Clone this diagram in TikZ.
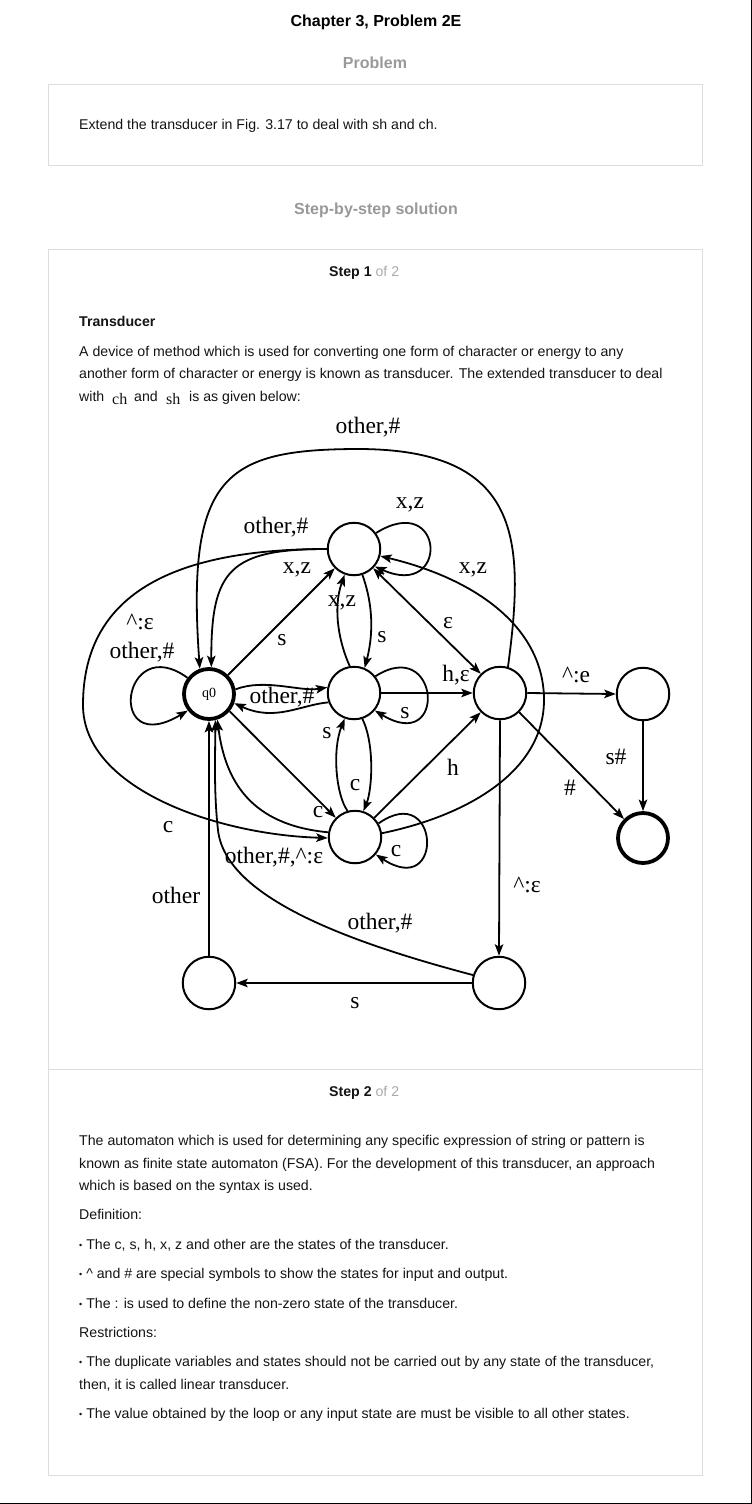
\documentclass[tikz,border=0pt]{standalone}
\usepackage{fontspec}
\setmainfont{Liberation Sans}
\newfontfamily\tms{Liberation Serif}
\usetikzlibrary{arrows.meta}
\definecolor{hgray}{RGB}{153,153,153}
\definecolor{lgray}{RGB}{170,170,170}
\definecolor{boxgray}{RGB}{221,221,221}
\definecolor{txt}{RGB}{20,20,20}
\begin{document}
\begin{tikzpicture}[x=1pt,y=-1pt,
  >={Stealth[length=11.5pt,width=8.5pt,inset=2.5pt]},
  st/.style={circle,draw,line width=2pt,minimum size=52.5pt,inner sep=0pt},
  acc/.style={st,line width=3.8pt,minimum size=50pt},
  ed/.style={line width=1.8pt,->},
  lbl/.style={font=\tms\fontsize{23.5}{26}\selectfont,inner sep=0pt},
  body/.style={font=\fontsize{14.15}{16}\selectfont,anchor=base west,inner sep=0pt,text=txt},
  bodyb/.style={body,font=\bfseries\fontsize{14.15}{16}\selectfont},
  head/.style={font=\bfseries\fontsize{16}{18}\selectfont,anchor=base,inner sep=0pt,text=hgray},
  sbox/.style={draw=boxgray,line width=1pt}
]
\useasboundingbox (0,0) rectangle (752,1504);
\fill[white] (0,0) rectangle (752,1504);
\draw[line width=1pt] (751.5,0) -- (751.5,1503.5) -- (0,1503.5);

% ---------- page text ----------
\node[font=\bfseries\fontsize{16}{18}\selectfont,anchor=base,inner sep=0pt] (title) at (376,27) {Chapter 3, Problem 2E};
\node[head] (hprob) at (375,69) {Problem};
\draw[sbox] (48.5,84.5) rectangle (702.5,165.5);
\node[body] (ptext) at (79,129) {Extend the transducer in Fig. 3.17 to deal with sh and ch.};
\node[head] (hsol) at (376,214) {Step-by-step solution};
\draw[sbox] (48.5,249.5) rectangle (702.5,1475.5);
\draw[sbox] (48.5,1069.5) -- (702.5,1069.5);

\node[body] (s1) at (329,276) {\bfseries Step 1 \mdseries\color{lgray}of 2};
\node[bodyb] (trh) at (79,326) {Transducer};
\node[body] (l1) at (79,356) {A device of method which is used for converting one form of character or energy to any};
\node[body] (l2) at (79,378) {another form of character or energy is known as transducer. The extended transducer to deal};
\node[body] (l3a) at (79,401) {with};
\node[body,font=\tms\fontsize{16}{18}\selectfont] (l3ch) at (112,404) {ch};
\node[body] (l3b) at (134,401) {and};
\node[body,font=\tms\fontsize{16}{18}\selectfont] (l3sh) at (166,404) {sh};
\node[body] (l3c) at (189,401) {is as given below:};

\node[body] (s2) at (329,1096) {\bfseries Step 2 \mdseries\color{lgray}of 2};
\node[body] (m1) at (79,1145) {The automaton which is used for determining any specific expression of string or pattern is};
\node[body] (m2) at (79,1168) {known as finite state automaton (FSA). For the development of this transducer, an approach};
\node[body] (m3) at (79,1190) {which is based on the syntax is used.};
\node[body] (m4) at (79,1219) {Definition:};
\node[body] (m5) at (79,1249) {\raisebox{1pt}{\fontsize{9}{9}\selectfont •} The c, s, h, x, z and other are the states of the transducer.};
\node[body] (m6) at (79,1278) {\raisebox{1pt}{\fontsize{9}{9}\selectfont •} \textasciicircum{} and \# are special symbols to show the states for input and output.};
\node[body] (m7) at (79,1308) {\raisebox{1pt}{\fontsize{9}{9}\selectfont •} The : is used to define the non-zero state of the transducer.};
\node[body] (m8) at (79,1337) {Restrictions:};
\node[body] (m9) at (79,1366) {\raisebox{1pt}{\fontsize{9}{9}\selectfont •} The duplicate variables and states should not be carried out by any state of the transducer,};
\node[body] (m10) at (79,1389) {then, it is called linear transducer.};
\node[body] (m11) at (79,1418) {\raisebox{1pt}{\fontsize{9}{9}\selectfont •} The value obtained by the loop or any input state are must be visible to all other states.};

% ---------- states ----------
\node[acc] (q0) at (209,694) {\tms\fontsize{14}{14}\selectfont q0};
\node[st] (T) at (354,549) {};
\node[st] (M) at (354,693) {};
\node[st] (C) at (355,837) {};
\node[st] (R) at (500,693) {};
\node[st] (FR) at (643,694) {};
\node[acc] (F) at (643,838) {};
\node[st] (BL) at (209,983) {};
\node[st] (BR) at (499,983) {};

% ---------- transitions ----------
\draw[ed] (R.73) .. controls (525,540) and (522,450) .. (360,449)
              .. controls (225,449) and (186,475) .. (q0.110);
\draw[ed] (T.180) .. controls (230,549) and (211,570) .. (q0.85);
\draw[ed] (T.180) .. controls (180,549) and (83,590) .. (83,705)
              .. controls (83,790) and (220,835) .. (C.182);
\draw[ed] (C.8) .. controls (470,815) and (544,770) .. (544,700)
              .. controls (544,630) and (480,580) .. (T.-15);
\draw[ed] (T.36) .. controls (445,490) and (450,600) .. (T.-40);
\draw[line width=1.8pt,<->] (T.-45) -- (R.135);
\draw[ed] (q0.45) -- (T.225);
\draw[ed] (M.99) .. controls (340,645) and (332,610) .. (T.250);
\draw[ed] (T.288) .. controls (375,610) and (372,640) .. (M.67);
\draw[ed] (q0.10) .. controls (265,678) and (300,692) .. (M.168);
\draw[ed] (M.200) .. controls (300,705) and (275,722) .. (q0.-20);
\draw[ed] (M.38) .. controls (440,635) and (448,755) .. (M.-40);
\draw[ed] (M.0) -- (R.180);
\draw[ed] (C.106) .. controls (336,795) and (332,750) .. (M.250);
\draw[ed] (M.288) .. controls (375,745) and (372,790) .. (C.72);
\draw[ed] (q0.-40) -- (C.135);
\draw[ed] (C.170) .. controls (250,825) and (225,780) .. (q0.-72);
\draw[ed] (C.30) .. controls (440,780) and (445,900) .. (C.-40);
\draw[ed] (C.45) -- (R.225);
\draw[ed] (R.0) -- (FR.180);
\draw[ed] (R.-45) -- (F.135);
\draw[ed] (FR.-90) -- (F.90);
\draw[ed] (R.-90) -- (BR.90);
\draw[ed] (BR.180) -- (BL.0);
\draw[ed] (BL.90) -- (q0.-90);
\draw[ed] (BR.163) .. controls (340,940) and (225,895) .. (218,830)
              .. controls (214,795) and (215,760) .. (q0.-76);
\draw[ed] (q0.143) .. controls (122,630) and (105,760) .. (q0.218);

% ---------- labels ----------
\node[lbl] (a1) at (368,427) {other,\#};
\node[lbl] (a2) at (410,505) {x,z};
\node[lbl] (a3) at (276,527) {other,\#};
\node[lbl] (a4) at (297,570) {x,z};
\node[lbl] (a5) at (473,570) {x,z};
\node[lbl] (a6) at (342,603) {x,z};
\node[lbl] (a7) at (382,637) {s};
\node[lbl] (a8) at (448,623) {ε};
\node[lbl] (a9) at (140,622) {\textasciicircum:ε};
\node[lbl] (a10) at (142,652) {other,\#};
\node[lbl] (a11) at (282,640) {s};
\node[lbl] (a12) at (456,675) {h,ε};
\node[lbl] (a13) at (576,675) {\textasciicircum:e};
\node[lbl] (a14) at (282,697) {other,\#};
\node[lbl] (a15) at (405,713) {s};
\node[lbl] (a16) at (327,733) {s};
\node[lbl] (a17) at (616,757) {s\#};
\node[lbl] (a18) at (453,767) {h};
\node[lbl] (a19) at (355,785) {c};
\node[lbl] (a20) at (570,788) {\#};
\node[lbl] (a21) at (318,812) {c};
\node[lbl] (a22) at (168,827) {c};
\node[lbl] (a23) at (396,851) {c};
\node[lbl] (a24) at (274,857) {other,\#,\textasciicircum:ε};
\node[lbl] (a25) at (527,885) {\textasciicircum:ε};
\node[lbl] (a26) at (176,895) {other};
\node[lbl] (a27) at (380,923) {other,\#};
\node[lbl] (a28) at (355,1003) {s};
\end{tikzpicture}
\end{document}
